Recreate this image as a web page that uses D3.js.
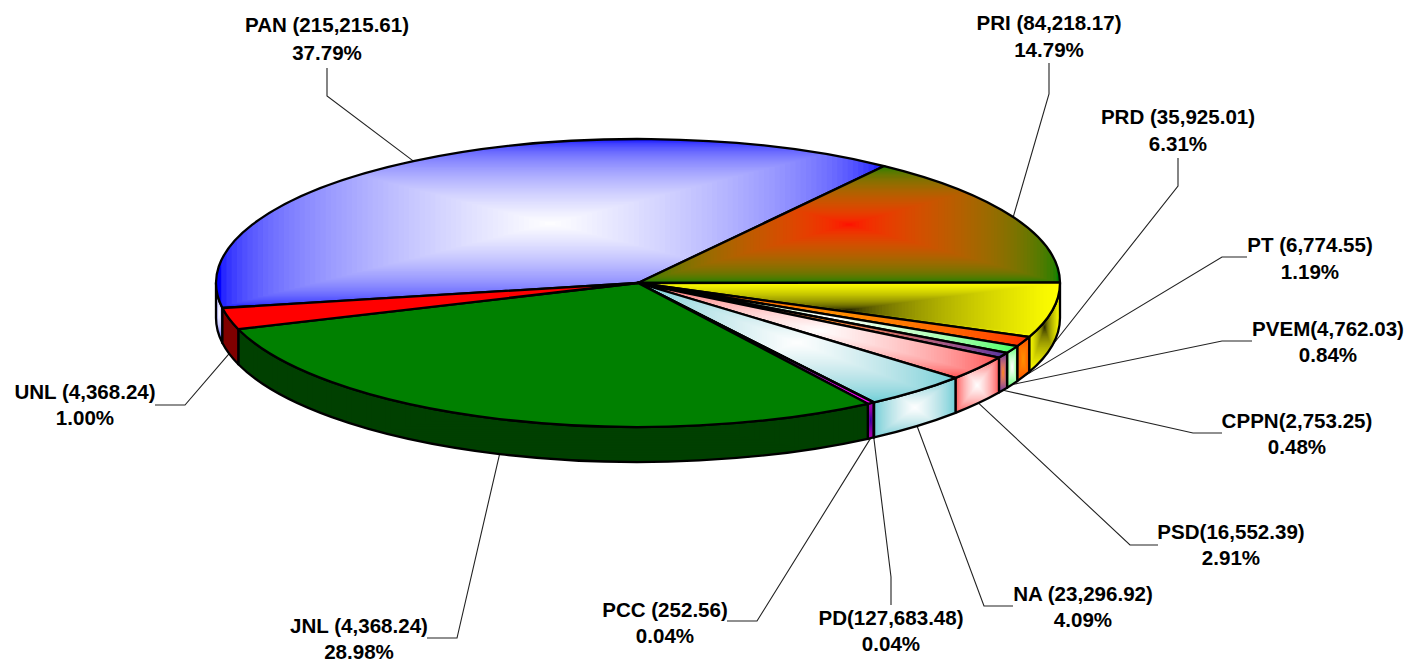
<!DOCTYPE html>
<html><head><meta charset="utf-8">
<script src="https://cdnjs.cloudflare.com/ajax/libs/d3/7.9.0/d3.min.js"></script>
<style>html,body{margin:0;padding:0;background:#fff}svg{display:block}
text{font-family:"Liberation Sans",Arial,sans-serif;font-weight:700;font-size:20.55px;fill:#000;text-anchor:middle}</style>
</head><body><svg id="c" width="1410" height="664"></svg>
<script>
// Data
const parties = ["PAN","PRI","PRD","PT","PVEM","CPPN","PSD","NA","PD","PCC","JNL","UNL"];
const valueLabels = ["PAN (215,215.61)","PRI (84,218.17)","PRD (35,925.01)","PT (6,774.55)","PVEM(4,762.03)","CPPN(2,753.25)","PSD(16,552.39)","NA (23,296.92)","PD(127,683.48)","PCC (252.56)","JNL (4,368.24)","UNL (4,368.24)"];
const percentLabels = ["37.79%","14.79%","6.31%","1.19%","0.84%","0.48%","2.91%","4.09%","0.04%","0.04%","28.98%","1.00%"];
// slice sizes as drawn (percent of the full turn)
const drawnShares = [37.7,15.03,6.17,1.11,0.83,0.61,2.78,4.11,0.02,0.26,28.97,2.42];

// Styling and layout, by party
const topCentre = ["#ffffff","#ff0000","#000000","#ff9000","#ffffff","#ff8800","#ffffff","#ffffff","#2000a0","#2000a0","#008000","#ff0000"];
const topEdge   = ["#0000ff","#008000","#ffff00","#ff3000","#40ff60","#5030a0","#ff5050","#70d0d8","#ff00ff","#ff00ff","#008000","#ff0000"];
const sideCentre= ["#ffffff","#ff0000","#000000","#ff9000","#ffffff","#ff8800","#ffffff","#ffffff","#2000a0","#2000a0","#004000","#800000"];
const sideEdge  = ["#0000ff","#008000","#ffff00","#ff5000","#40ff60","#5030a0","#ff5050","#70d0d8","#b000b0","#b000b0","#004000","#800000"];
const labelX  = [327,1049,1178,1310,1328,1297,1231,1083,891,665,359,85];
const labelY  = [32,30,124,252,336,428,539,601,625,617,633,399];
const lineGap = [28,27,27,27,26,26,26,26,26,26,26,26];
const elbowX  = [327,1049,1178,1222,1222,1193,1130,984,891,757,457,185];
const elbowY  = [96,94,186,257,341,433,545,606,577,621,638,405];
const stubX   = [327,1049,1178,1247,1252,1222,1158,1013,891,727,427,155];
const stubY   = [68,63,158,257,341,433,545,606,605,621,638,405];

const depth = 35;
const x = d3.scaleLinear().domain([-1,1]).range([216,1060]);
const y = d3.scaleLinear().domain([-1,1]).range([139,427]);
const rx = (x(1)-x(-1))/2, ry = (y(1)-y(-1))/2;
const deg = Math.PI/180;
const start = 260*deg;
const bands = 64;

const arcs = d3.pie().sort(null).startAngle(start).endAngle(start+2*Math.PI)(drawnShares);
const px = a => x(Math.sin(a)), py = a => y(-Math.cos(a));

const svg = d3.select("#c");
const defs = svg.append("defs");

function topPath(d){
  const large = (d.endAngle-d.startAngle)>Math.PI?1:0;
  return `M${x(0)},${y(0)}L${px(d.startAngle)},${py(d.startAngle)}A${rx},${ry} 0 ${large} 1 ${px(d.endAngle)},${py(d.endAngle)}Z`;
}
// visible front wall: the part of a slice lying in the lower half of the ellipse
function sidePath(d){
  const lo = Math.PI/2, hi = 3*Math.PI/2, turn = 2*Math.PI;
  for(const k of [0,1]){
    const a0 = Math.max(d.startAngle-k*turn,lo), a1 = Math.min(d.endAngle-k*turn,hi);
    if(a1>a0) return `M${px(a0)},${py(a0)}A${rx},${ry} 0 0 1 ${px(a1)},${py(a1)}L${px(a1)},${py(a1)+depth}A${rx},${ry} 0 0 0 ${px(a0)},${py(a0)+depth}Z`;
  }
  return null;
}

const leaders = svg.append("g").attr("fill","none").attr("stroke","#222").attr("stroke-width",1.1);
leaders.selectAll("path").data(arcs).join("path").attr("d",(d,i)=>{
  const m=(d.startAngle+d.endAngle)/2, ax=px(m), ay=py(m)+(Math.cos(m)<0?depth:0);
  return `M${ax},${ay}L${elbowX[i]},${elbowY[i]}L${stubX[i]},${stubY[i]}`;
});

const pie = svg.append("g");
// rectangular path gradient blended in linear light, clipped to the face
function face(id,pathD,c0,c1){
  const clip = defs.append("clipPath").attr("id",id);
  clip.append("path").attr("d",pathD);
  const g = pie.append("g");
  const layer = g.append("g").attr("clip-path",`url(#${id})`);
  const outline = g.append("path").attr("d",pathD).attr("fill","none")
    .attr("stroke","#000").attr("stroke-width",2.3).attr("stroke-linejoin","round");
  const b = outline.node().getBBox();
  const mix = d3.interpolateRgb.gamma(2.2)(c0,c1);
  const steps = d3.range(bands,0,-1).map(k=>k/bands);
  layer.selectAll("rect").data(steps).join("rect")
    .attr("x",t=>b.x+b.width/2-b.width/2*t-(t===1?1:0))
    .attr("y",t=>b.y+b.height/2-b.height/2*t-(t===1?1:0))
    .attr("width",t=>b.width*t+(t===1?2:0))
    .attr("height",t=>b.height*t+(t===1?2:0))
    .attr("fill",t=>mix(t));
}
arcs.forEach(d=>{const s=sidePath(d); if(s) face("s"+d.index,s,sideCentre[d.index],sideEdge[d.index]);});
arcs.forEach(d=>face("t"+d.index,topPath(d),topCentre[d.index],topEdge[d.index]));

const labels = svg.append("g");
labels.selectAll("text.v").data(valueLabels).join("text").attr("class","v").attr("x",(d,i)=>labelX[i]).attr("y",(d,i)=>labelY[i]).text(d=>d);
labels.selectAll("text.p").data(percentLabels).join("text").attr("class","p").attr("x",(d,i)=>labelX[i]).attr("y",(d,i)=>labelY[i]+lineGap[i]).text(d=>d);
</script></body></html>
